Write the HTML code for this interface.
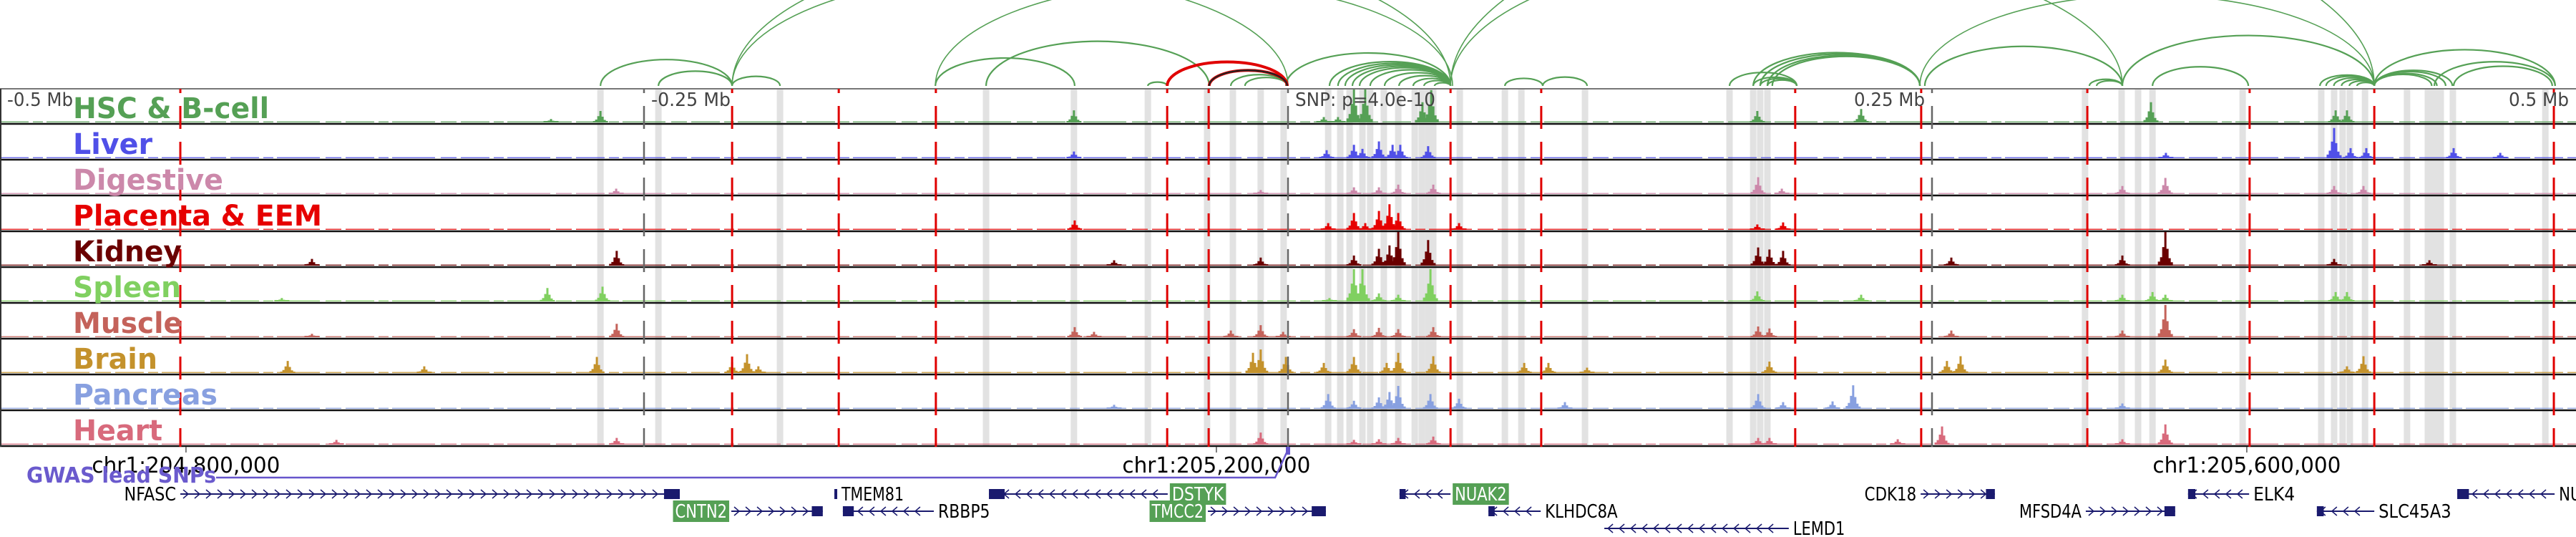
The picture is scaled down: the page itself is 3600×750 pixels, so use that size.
<!DOCTYPE html>
<html><head><meta charset="utf-8">
<style>
html,body{margin:0;padding:0;background:#fff;width:3600px;height:750px;overflow:hidden}
svg{display:block}
.cond{font-family:"DejaVu Sans Condensed","DejaVu Sans","Liberation Sans",sans-serif}
</style></head>
<body>
<svg id="chart" xmlns="http://www.w3.org/2000/svg" width="3600" height="750" viewBox="0 0 3600 750">
<g id="bands"></g>
<g id="arcs"></g>
<g id="tracks"></g>
<g id="vlines"></g>
<g id="labels"></g>
<g id="axis"></g>
<g id="genes"></g>
</svg>
<script>
// ---- data (positions in kb from window start; window = 1000 kb) ----
const windowKb = 1000;
const snpKb = 500;
const trackNames = ["HSC & B-cell","Liver","Digestive","Placenta & EEM","Kidney","Spleen","Muscle","Brain","Pancreas","Heart"];
const trackColors = ["#55a055","#5050e8","#cc88aa","#e60000","#6b0000","#80d060","#c4625a","#c4922c","#88a0e0","#d86a7c"];
const peaksHSC = [[213.9,5],[233.1,17],[416.9,18],[513.9,8],[519.4,8],[525.6,50],[530,50],[552.2,30],[555.6,48],[682.2,17],[722.5,20],[835,30],[906.7,18],[911.1,18]];
const peaksLiver = [[416.9,10],[515,12],[525.6,20],[528.9,14],[535.3,25],[540.6,20],[543.6,20],[554.4,18],[840.8,8],[906.1,45],[912.5,15],[918.6,15],[952.5,15],[970.6,8]];
const peaksDigestive = [[239.2,8],[489.4,6],[525.6,10],[535.3,10],[542.8,14],[556.4,14],[682.5,25],[691.7,8],[823.9,12],[840.6,24],[906.1,12],[917.5,12]];
const peaksPlacenta = [[417.2,14],[515.6,10],[525.6,25],[530,10],[535.3,28],[539.4,38],[542.8,25],[566.4,10],[682.2,8],[692.2,11]];
const peaksKidney = [[121.1,10],[239.4,22],[432.5,8],[489.4,12],[525.6,15],[535.3,25],[539.4,30],[542.8,50],[554.4,38],[682.5,27],[686.9,24],[692.2,22],[757.5,12],[823.9,15],[840.6,50],[906.1,10],[943.1,8]];
const peaksSpleen = [[109.4,5],[212.5,20],[233.9,22],[516.1,5],[525.6,48],[528.9,48],[535.3,12],[542.8,10],[555.3,48],[682.2,15],[722.5,10],[823.9,10],[835.6,14],[840.6,10],[906.7,14],[911.1,14]];
const peaksMuscle = [[121.1,5],[239.4,20],[417.2,15],[424.7,8],[477.8,10],[489.4,18],[498.1,8],[525.6,12],[535.3,14],[542.8,12],[556.4,15],[682.5,16],[686.9,13],[757.5,10],[823.9,10],[840.6,48]];
const peaksBrain = [[111.7,18],[164.7,10],[231.7,24],[284.2,16],[290,28],[294.4,10],[486.4,30],[489.4,35],[499.2,24],[513.9,15],[525.6,24],[538.3,15],[542.8,30],[556.4,25],[591.7,15],[601.1,15],[616.1,8],[686.9,17],[755.8,18],[761.1,25],[840.6,20],[911.1,10],[917.5,25]];
const peaksPancreas = [[432.5,6],[515.6,22],[525.6,12],[535.3,17],[539.4,25],[542.8,34],[555.3,22],[566.4,15],[607.5,10],[682.5,22],[692.2,10],[711.4,11],[719.4,35],[823.9,8]];
const peaksHeart = [[130.6,7],[239.4,10],[489.4,18],[525.6,7],[535.3,8],[542.8,10],[556.4,12],[682.5,10],[686.9,10],[736.7,8],[753.9,27],[823.9,8],[840.6,30]];
const allPeaks = [peaksHSC,peaksLiver,peaksDigestive,peaksPlacenta,peaksKidney,peaksSpleen,peaksMuscle,peaksBrain,peaksPancreas,peaksHeart];
const bandKb = [233.1,255.6,302.8,382.8,416.9,445.6,468.6,478.6,489.4,498.3,515.6,520.3,523.9,528.9,531.9,537.2,542.8,549.2,551.9,554.4,556.4,566.7,584.2,590.6,615.3,671.4,680.6,683.3,686.1,809.4,823.6,830,835.6,870.6,901.1,906.1,909.4,912.2,918.1,934.4,942.5,945,947.5,952.2,988.1];
const redLineKb = [70,284.2,325.6,363.3,453.1,469.2,563.1,598.3,696.9,745.8,810.3,873.3,921.7,991.4];
const mbTickKb = [250,500,750];
const mbLabels = ["-0.5 Mb","-0.25 Mb","0.25 Mb","0.5 Mb"];
const arcStart = [233.1,255.6,284.2,284.2,363.1,363.1,382.8,445.6,477.8,483.3,284.2,499.2,516.1,519.4,522.2,525,527.8,531.9,537.5,543.1,548.6,552.8,556.9,563.1,584.2,598.9,671.4,680.6,683.3,686.1,680.6,683.3,686.1,688,745.3,747.2,811.1,813.9,823.9,835.6,900.6,903,906,909,912,915,563.1,921.7,921.7,921.7,921.7,921.7,945,952.5,453.1,469.4,469.4];
const arcEnd   = [284.2,284.2,302.8,500,417.2,563.9,469.4,453.1,499.7,499.7,563.1,563.1,563.1,563.1,563.1,563.1,563.1,563.1,563.1,563.1,563.1,563.1,563.1,921.7,598.9,616.1,697.5,697.5,697.5,697.5,745.3,745.3,745.3,745.3,921.7,823.9,823.9,823.9,921.7,872.8,921.7,921.7,921.7,921.7,921.7,921.7,823.9,949.4,946,944,952,991.9,991.9,990.8,499.7,499.7,499.7];
const arcKind  = ["g","g","g","g","g","g","g","g","g","g","g","g","g","g","g","g","g","g","g","g","g","g","g","g","g","g","g","g","g","g","g","g","g","g","g","g","g","g","g","g","g","g","g","g","g","g","g","g","g","g","g","g","g","g","r","r","k"];
const geneNames = ["NFASC","TMEM81","DSTYK","NUAK2","CDK18","ELK4","NUCKS1","CNTN2","RBBP5","TMCC2","KLHDC8A","MFSD4A","SLC45A3","LEMD1"];
const geneStart = [70,323.9,383.9,543.3,745.6,849.4,953.9,283.9,327.2,468.9,577.8,809.7,899.4,622.8];
const geneEnd   = [263.9,325,453.3,563.1,774.4,873.1,991.7,319.4,362.5,514.7,598.1,844.4,921.7,694.4];
const geneStrand= ["+","-","-","-","+","-","-","+","-","+","-","+","-","-"];
const geneRow   = [0,0,0,0,0,0,0,1,1,1,1,1,1,2];
const geneHighlight=[0,0,1,1,0,0,0,1,0,1,0,0,0,0];
const axisTickKb = [72.2,472.2,872.2];
const axisTickLabels = ["chr1:204,800,000","chr1:205,200,000","chr1:205,600,000"];

// ---- scales ----
const W = 3600;
const xs = kb => kb / windowKb * W;
const trackTop = 124, trackH = 50, sigMax = 47;
const ys = v => Math.min(v, 50) / 50 * sigMax;
const NS = "http://www.w3.org/2000/svg";
const labelWidths = [274,111,210,348,152,151,153,118,202,125];
function mk(tag, attrs, parent){
  const e = document.createElementNS(NS, tag);
  for (const k in attrs) e.setAttribute(k, attrs[k]);
  if (parent) parent.appendChild(e);
  return e;
}
const gBands = document.getElementById('bands'), gArcs = document.getElementById('arcs'),
      gTracks = document.getElementById('tracks'), gV = document.getElementById('vlines'),
      gLab = document.getElementById('labels'), gAxis = document.getElementById('axis'),
      gGenes = document.getElementById('genes');
const panelBottom = trackTop + trackH * trackNames.length;

// bands
bandKb.forEach(b => {
  const r = mk('rect', {x: xs(b) - 4.5, y: trackTop, width: 9, height: panelBottom - trackTop, fill: '#e2e2e2'}, gBands);
  
  
});

// arcs
arcStart.forEach((s, i) => {
  const x1 = xs(s), x2 = xs(arcEnd[i]);
  const rx = (x2 - x1) / 2, ry = (x2 - x1) * 0.2;
  const col = arcKind[i] === 'r' ? '#e00000' : arcKind[i] === 'k' ? '#222' : '#55a055';
  const sw = arcKind[i] === 'r' ? 4 : (x2 - x1 > 500 ? 1.6 : 2.2);
  const p = mk('path', {d: `M${x1},120 A${rx},${ry} 0 0 1 ${x2},120`, fill: 'none', stroke: col, 'stroke-width': sw}, gArcs);
  
  
});

// tracks
trackNames.forEach((name, t) => {
  const top = trackTop + t * trackH, base = top + trackH - 3;
  const g = mk('g', {}, gTracks);
  
  
  mk('line', {x1: 0, x2: W, y1: base - 0.75, y2: base - 0.75, stroke: trackColors[t], 'stroke-width': 1.5, 'stroke-dasharray': '40 6 14 5 60 8 22 6', opacity: 0.8}, g);
  let d = '';
  allPeaks[t].forEach(([kb, v]) => {
    const cx = xs(kb), h = ys(v);
    const parts = [[0, 1], [-3, 0.55], [3, 0.5], [-6, 0.25], [6, 0.22], [-9, 0.12], [9, 0.1]];
    parts.forEach(([dx, f]) => {
      const hh = Math.max(2, h * f);
      d += `M${cx + dx - 1.5},${base}h3v${-hh}h-3z`;
    });
  });
  const p = mk('path', {d: d, fill: trackColors[t]}, g);
  
  
  mk('line', {x1: 0, x2: W, y1: top + trackH - 1, y2: top + trackH - 1, stroke: '#111', 'stroke-width': 2.5}, g);
});
mk('line', {x1: 0, x2: W, y1: trackTop, y2: trackTop, stroke: '#777', 'stroke-width': 2}, gTracks);
mk('line', {x1: 1, x2: 1, y1: trackTop, y2: panelBottom, stroke: '#333', 'stroke-width': 2}, gTracks);

// vertical marker lines
redLineKb.forEach(k => {
  const l = mk('line', {x1: xs(k), x2: xs(k), y1: trackTop, y2: panelBottom, stroke: '#e00000', 'stroke-width': 3, 'stroke-dasharray': '32 18', 'stroke-dashoffset': 26}, gV);
  
  
});
mbTickKb.forEach(k => {
  const l = mk('line', {x1: xs(k), x2: xs(k), y1: trackTop, y2: panelBottom, stroke: '#666', 'stroke-width': 2.5, 'stroke-dasharray': '32 18', 'stroke-dashoffset': 26}, gV);
  
  
});
// Mb labels
const mbX = [10, xs(250) + 10, xs(750) - 10, W - 10];
const mbAnchor = ['start', 'start', 'end', 'end'];
const mbW = [92, 111, 99, 84];
mbLabels.forEach((s, i) => {
  const t = mk('text', {x: mbX[i], y: 148, 'font-size': 26, fill: '#444', 'text-anchor': mbAnchor[i], class: 'cond', textLength: mbW[i], lengthAdjust: 'spacingAndGlyphs'}, gV);
  t.textContent = s;
  
  
});
const snpT = mk('text', {x: xs(snpKb) + 10, y: 148, 'font-size': 26, fill: '#444', 'font-family': '"DejaVu Sans","Liberation Sans",sans-serif', textLength: 196, lengthAdjust: 'spacingAndGlyphs'}, gV);
snpT.textContent = 'SNP: p=4.0e-10';



// track labels
trackNames.forEach((name, t) => {
  const tx = mk('text', {x: 102, y: trackTop + t * trackH + 41, 'font-size': 40, 'font-weight': 'bold', fill: trackColors[t], class: 'cond', textLength: labelWidths[t], lengthAdjust: 'spacingAndGlyphs'}, gLab);
  tx.textContent = name;
  
  
});

// axis
axisTickKb.forEach((k, i) => {
  mk('line', {x1: xs(k), x2: xs(k), y1: panelBottom, y2: panelBottom + 8, stroke: '#555', 'stroke-width': 1.5}, gAxis);
  const t = mk('text', {x: xs(k), y: 660, 'font-size': 30, fill: '#000', 'text-anchor': 'middle', class: 'cond', textLength: 263, lengthAdjust: 'spacingAndGlyphs'}, gAxis);
  t.textContent = axisTickLabels[i];
  
  
});
// GWAS
const gw = mk('path', {d: `M302,667 H${xs(snpKb) - 18} L${xs(snpKb)},628`, fill: 'none', stroke: '#6655cc', 'stroke-width': 2.5}, gAxis);


const gwb = mk('rect', {x: xs(snpKb) - 3, y: 624, width: 6, height: 11, fill: '#6655cc'}, gAxis);


const gwt = mk('text', {x: 37, y: 674, 'font-size': 30, 'font-weight': 'bold', fill: '#6a5acd', class: 'cond', textLength: 265, lengthAdjust: 'spacingAndGlyphs'}, gAxis);
gwt.textContent = 'GWAS lead SNPs';



// genes
const rowY = [690, 714, 738];
geneNames.forEach((n, i) => {
  const g = mk('g', {}, gGenes);
  
  
  const x1 = xs(geneStart[i]), x2 = xs(geneEnd[i]), y = rowY[geneRow[i]];
  const plus = geneStrand[i] === '+';
  mk('line', {x1: x1, x2: x2, y1: y, y2: y, stroke: '#1a1a6e', 'stroke-width': 2}, g);
  let d = '';
  for (let x = x1 + 8; x < x2 - 10; x += 16) {
    d += plus ? `M${x - 4},${y - 6}L${x + 3},${y}L${x - 4},${y + 6}` : `M${x + 4},${y - 6}L${x - 3},${y}L${x + 4},${y + 6}`;
  }
  mk('path', {d: d, fill: 'none', stroke: '#1a1a6e', 'stroke-width': 1.5}, g);
  if (n !== 'LEMD1') {
    const bw = Math.min(22, Math.max(4, (x2 - x1) * 0.12));
    const bx = plus ? x2 - bw : x1;
    mk('rect', {x: bx, y: y - 7, width: bw, height: 14, fill: '#1a1a6e'}, g);
  }
  const tw = n.length * 14.5;
  const lx = plus ? x1 - 3 : x2 + 3;
  if (geneHighlight[i]) {
    const rx = plus ? lx - tw - 6 : lx;
    mk('rect', {x: rx, y: y - 15, width: tw + 6, height: 30, fill: '#55a055'}, g);
  }
  const t = mk('text', {x: plus ? lx - 3 : lx + 3, y: y + 9, 'font-size': 26, fill: geneHighlight[i] ? '#fff' : '#000', 'text-anchor': plus ? 'end' : 'start', class: 'cond', textLength: tw, lengthAdjust: 'spacingAndGlyphs'}, g);
  t.textContent = n;
});
</script>
</body></html>
